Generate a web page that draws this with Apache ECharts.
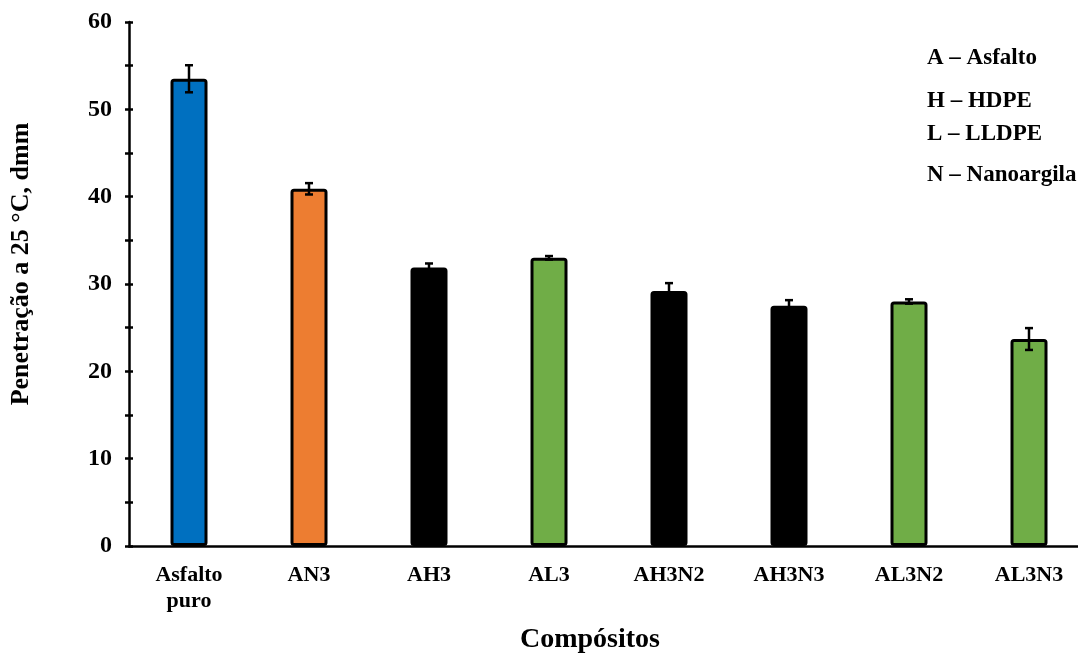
<!DOCTYPE html>
<html>
<head>
<meta charset="utf-8">
<script src="https://cdn.jsdelivr.net/npm/echarts@6/dist/echarts.min.js"></script>
<style>
  html, body { margin: 0; padding: 0; background: #fff; }
  #chart { width: 1078px; height: 654px; }
</style>
</head>
<body>
<div id="chart"></div>
<script>
const categories = ['Asfalto\npuro', 'AN3', 'AH3', 'AL3', 'AH3N2', 'AH3N3', 'AL3N2', 'AL3N3'];
const values = [53.5, 40.9, 31.9, 33.0, 29.2, 27.5, 28.0, 23.7];
const errors = [1.55, 0.65, 0.45, 0.2, 0.9, 0.65, 0.25, 1.25];
const barColors = ['#0070C0', '#ED7D31', '#000000', '#70AD47', '#000000', '#000000', '#70AD47', '#70AD47'];
const yTicks = [0, 10, 20, 30, 40, 50, 60];
const legendLines = ['A – Asfalto', 'H – HDPE', 'L – LLDPE', 'N – Nanoargila'];

const FONT = '"Liberation Serif", "Times New Roman", serif';
const chart = echarts.init(document.getElementById('chart'));

const legendY = [58, 101, 134, 175];

const option = {
  animation: false,
  backgroundColor: '#fff',
  grid: { left: 129, top: 22, width: 960, height: 524, outerBoundsMode: 'none', containLabel: false },
  xAxis: {
    type: 'category',
    data: categories,
    axisLine: { lineStyle: { color: '#000', width: 2.5 } },
    axisTick: { alignWithLabel: true, length: 5, lineStyle: { color: '#000', width: 2.5 } },
    axisLabel: { color: '#000', fontFamily: FONT, fontWeight: 'bold', fontSize: 22, margin: 16, lineHeight: 26 },
    name: 'Compósitos',
    nameLocation: 'middle',
    nameGap: 80,
    nameTextStyle: { color: '#000', fontFamily: FONT, fontWeight: 'bold', fontSize: 28, padding: [0, 38, 0, 0] }
  },
  yAxis: [{
    type: 'value',
    position: 'left',
    min: yTicks[0],
    max: yTicks[yTicks.length - 1],
    interval: 10,
    splitLine: { show: false },
    axisLine: { show: true, lineStyle: { color: '#000', width: 2.5 } },
    axisTick: { show: true, inside: false, length: 4, lineStyle: { color: '#000', width: 2.5 } },
    minorTick: { show: true, splitNumber: 2, length: 4, lineStyle: { color: '#000', width: 2.5 } },
    axisLabel: { color: '#000', fontFamily: FONT, fontWeight: 'bold', fontSize: 24, margin: 17 },
    name: 'Penetração a 25 °C, dmm',
    nameLocation: 'middle',
    nameGap: 95,
    nameTextStyle: { color: '#000', fontFamily: FONT, fontWeight: 'bold', fontSize: 26, padding: [0, 0, 0, 40] }
  }, {
    type: 'value',
    position: 'left',
    offset: 0,
    min: yTicks[0],
    max: yTicks[yTicks.length - 1],
    interval: 10,
    splitLine: { show: false },
    axisLine: { show: false },
    axisLabel: { show: false },
    axisTick: { show: true, inside: true, length: 4, lineStyle: { color: '#000', width: 2.5 } },
    minorTick: { show: true, splitNumber: 2, length: 4, lineStyle: { color: '#000', width: 2.5 } }
  }],
  graphic: legendLines.map((t, i) => ({
    type: 'text',
    x: 927,
    y: legendY[i],
    style: { text: t, fill: '#000', font: 'bold 23px ' + FONT, verticalAlign: 'middle' }
  })),
  series: [{
    type: 'bar',
    barWidth: 37,
    data: values.map((v, i) => ({
      value: v,
      itemStyle: { color: barColors[i], borderColor: '#000', borderWidth: 3, borderRadius: 2 }
    }))
  }, {
    type: 'custom',
    z: 10,
    data: values.map((v, i) => [i, v, errors[i]]),
    renderItem: function (params, api) {
      const x = api.value(0);
      const v = api.value(1);
      const e = api.value(2);
      const hi = api.coord([x, v + e]);
      const lo = api.coord([x, v - e]);
      const cw = 4;
      const st = { stroke: '#000', lineWidth: 2.5 };
      return {
        type: 'group',
        children: [
          { type: 'line', shape: { x1: hi[0], y1: hi[1], x2: lo[0], y2: lo[1] }, style: st },
          { type: 'line', shape: { x1: hi[0] - cw, y1: hi[1], x2: hi[0] + cw, y2: hi[1] }, style: st },
          { type: 'line', shape: { x1: lo[0] - cw, y1: lo[1], x2: lo[0] + cw, y2: lo[1] }, style: st }
        ]
      };
    }
  }]
};
chart.setOption(option);
</script>
</body>
</html>
